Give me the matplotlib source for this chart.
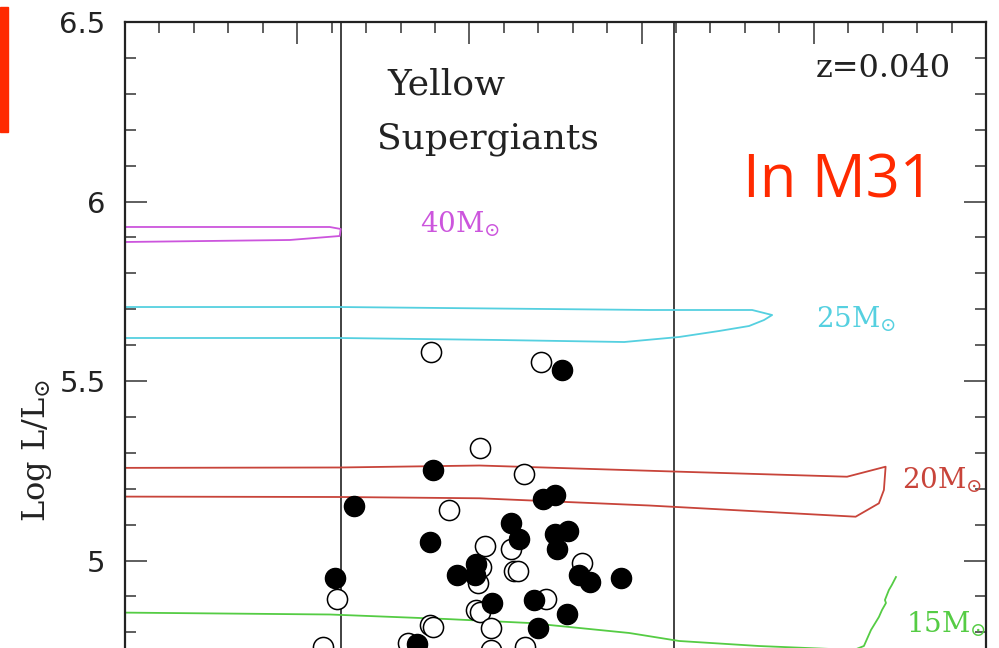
import matplotlib
matplotlib.use("Agg")
import matplotlib.pyplot as plt
from matplotlib.patches import Rectangle
from matplotlib.ticker import MultipleLocator
import numpy as np

plt.rcParams["mathtext.fontset"] = "dejavuserif"

# ---- data -------------------------------------------------------------
# Yellow supergiants: log Teff and log L/Lsun
open_logT = [3.8222, 3.7584, 3.7941, 3.7685, 3.8121, 3.7912, 3.7759, 3.7743,
             3.7719, 3.7344, 3.7932, 3.7951, 3.8771, 3.7961, 3.7941, 3.7557,
             3.8231, 3.8212, 3.7874, 3.8850, 3.8357, 3.7675, 3.7872]
open_logL = [5.5816, 5.5521, 5.3125, 5.2409, 5.1407, 5.0404, 5.0312, 4.9721,
             4.9721, 4.9944, 4.9827, 4.9387, 4.8919, 4.8621, 4.8574, 4.8919,
             4.8203, 4.8134, 4.8120, 4.7591, 4.7702, 4.7591, 4.7507]

filled_logT = [3.7462, 3.8212, 3.8672, 3.7574, 3.7501, 3.8230, 3.7760, 3.7712,
               3.7501, 3.7429, 3.7490, 3.8070, 3.7961, 3.7970, 3.7362, 3.7299,
               3.7121, 3.8782, 3.7868, 3.7623, 3.7431, 3.7603, 3.8302]
filled_logL = [5.5306, 5.2521, 5.1518, 5.1705, 5.1825, 5.0524, 5.1036, 5.0610,
               5.0747, 5.0827, 5.0326, 4.9604, 4.9903, 4.9596, 4.9604, 4.9409,
               4.9504, 4.9526, 4.8808, 4.8911, 4.8518, 4.8120, 4.7674]

# Evolutionary tracks (z = 0.040)
track40_logT = [4.0377, 4.0000, 3.9043, 3.8753, 3.8747, 3.8811, 4.0000, 4.0377]
track40_logL = [5.8900, 5.8872, 5.8928, 5.9039, 5.9234, 5.9290, 5.9290, 5.9290]

track25_logT = [4.0377, 3.8753, 3.6956, 3.6358, 3.6242, 3.6289, 3.6376, 3.6550,
                3.6782, 3.7101, 3.7825, 3.8753, 4.0377]
track25_logL = [5.7061, 5.7061, 5.6978, 5.6978, 5.6838, 5.6699, 5.6532, 5.6393,
                5.6226, 5.6086, 5.6142, 5.6198, 5.6198]

track20_logT = [4.0377, 3.8753, 3.7941, 3.6782, 3.5807, 3.5583, 3.5593, 3.5622,
                3.5757, 3.6956, 3.7941, 3.8753, 4.0377]
track20_logL = [5.2577, 5.2591, 5.2646, 5.2474, 5.2334, 5.2613, 5.1964, 5.1593,
                5.1220, 5.1532, 5.1733, 5.1769, 5.1783]

track15_logT = [4.0377, 3.8811, 3.8133, 3.7651, 3.7072, 3.6782, 3.6318, 3.5970,
                3.5767, 3.5709, 3.5668, 3.5622, 3.5604, 3.5581, 3.5587, 3.5564,
                3.5547, 3.5523]
track15_logL = [4.8565, 4.8496, 4.8370, 4.8259, 4.7981, 4.7758, 4.7618, 4.7549,
                4.7507, 4.7619, 4.8064, 4.8426, 4.8621, 4.8816, 4.8900, 4.9178,
                4.9318, 4.9540]

track_masses = ["40", "25", "20", "15"]
track_label_logT = [3.8289, 3.5987, 3.5489, 3.5465]
track_label_logL = [5.9150, 5.6504, 5.2019, 4.8008]

# Yellow supergiant region boundaries (7500 K and 4800 K)
ysg_bounds = [3.8747, 3.6811]

# ---- figure -----------------------------------------------------------
fig = plt.figure(figsize=(9.99, 6.48), dpi=100)
ax = fig.add_axes([0.1251, -0.14198, 0.8619, 1.10803])
ax.set_xlim(4.0, 3.5)
ax.set_ylim(4.5, 6.5)

c40, c25, c20, c15 = "#cc55dd", "#55d0e0", "#c8443a", "#55cc44"
track_colors = [c40, c25, c20, c15]
tracks = [(track40_logT, track40_logL), (track25_logT, track25_logL),
          (track20_logT, track20_logL), (track15_logT, track15_logL)]
for (tT, tL), col in zip(tracks, track_colors):
    ax.plot(tT, tL, color=col, lw=1.3, zorder=2)

for b in ysg_bounds:
    ax.axvline(b, color="#333333", lw=1.3, zorder=1)

ax.plot(open_logT, open_logL, linestyle="none", marker="o", ms=14.5,
        mfc="white", mec="black", mew=1.1, zorder=3)
ax.plot(filled_logT, filled_logL, linestyle="none", marker="o", ms=14.5,
        mfc="black", mec="black", mew=1.0, zorder=4)

for m, tx, ty, col in zip(track_masses, track_label_logT, track_label_logL,
                          track_colors):
    ax.text(tx, ty, m + r"M$_{\odot}$", color=col, fontsize=20,
            family="DejaVu Serif", ha="left", va="baseline")

ax.text(3.8475, 6.2994, "Yellow", fontsize=26, family="DejaVu Serif",
        color="#222222", ha="left", va="baseline")
ax.text(3.8539, 6.1490, "Supergiants", fontsize=26, family="DejaVu Serif",
        color="#222222", ha="left", va="baseline")
ax.text(3.5204, 6.3468, "z=0.040", fontsize=23, family="DejaVu Serif",
        color="#222222", ha="right", va="baseline")

# axes styling
for s in ax.spines.values():
    s.set_linewidth(1.6)
    s.set_color("#222222")
ax.xaxis.set_major_locator(MultipleLocator(0.1))
ax.xaxis.set_minor_locator(MultipleLocator(0.02))
ax.yaxis.set_major_locator(MultipleLocator(0.5))
ax.yaxis.set_minor_locator(MultipleLocator(0.1))
ax.tick_params(which="both", direction="in", top=True, right=True,
               color="#333333", width=1.1)
ax.tick_params(which="major", length=15.5)
ax.tick_params(which="minor", length=8)
ax.tick_params(axis="y", which="major", labelsize=21, pad=14)
ax.tick_params(axis="x", labelbottom=False)
ax.set_yticks([5.0, 5.5, 6.0, 6.5])
ax.set_yticklabels(["5", "5.5", "6", "6.5"], family="DejaVu Sans",
                   color="#222222")

fig.text(0.037, 0.305, r"Log L/L$_{\odot}$", rotation=90, fontsize=23,
         family="DejaVu Serif", color="#222222", ha="center", va="center")

# red overlay caption and side bar
fig.text(0.7437, 1 - 197 / 648, "In M31", color="#ff2a00", fontsize=43,
         family=["Liberation Sans Narrow", "Open Sans", "DejaVu Sans"],
         ha="left", va="baseline")
fig.patches.append(Rectangle((0, 1 - 132 / 648), 8 / 999, 125 / 648,
                             transform=fig.transFigure, color="#ff2a00",
                             zorder=5))

fig.savefig("out.png", dpi=100)
